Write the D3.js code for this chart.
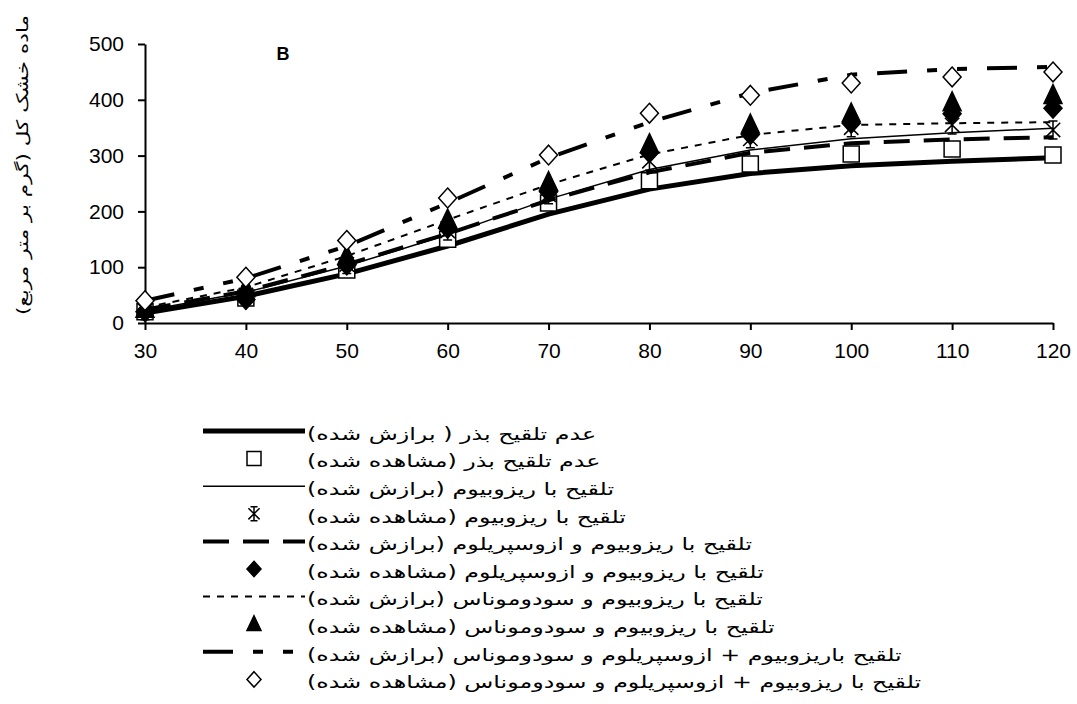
<!DOCTYPE html>
<html lang="fa">
<head>
    <meta charset="UTF-8">
    <title>Dry matter chart B</title>
    <script src="https://d3js.org/d3.v7.min.js"></script>
    <style>
        body {
            margin: 0;
            background: #fff;
        }
        .tick text {
            font-family: "Liberation Sans", Arial, sans-serif;
            font-size: 21px;
            fill: #000;
        }
        .legend-text {
            font-family: "DejaVu Sans", sans-serif;
            font-size: 17px;
            fill: #000;
        }
    </style>
</head>
<body>
<div id="chart"></div>
<script>
    // days after sowing
    const days = [30, 40, 50, 60, 70, 80, 90, 100, 110, 120];
    const yTicks = [0, 100, 200, 300, 400, 500];

    // fitted (برازش شده)
    const noInocFit   = [18, 48, 88, 138, 195, 240, 268, 282, 290, 296];
    const rhizoFit    = [22, 55, 102, 158, 222, 275, 310, 330, 341, 349];
    const rhizoAzoFit = [24, 57, 105, 160, 220, 270, 305, 322, 329, 333];
    const rhizoPsFit  = [28, 64, 120, 185, 248, 302, 337, 355, 358, 360];
    const allFit      = [40, 80, 138, 215, 296, 360, 412, 445, 455, 459];

    // observed (مشاهده شده)
    const noInocObs   = [20, 45, 95, 150, 215, 255, 285, 303, 312, 301];
    const rhizoObs    = [22, 50, 105, 165, 230, 290, 330, 350, 355, 346];
    const rhizoAzoObs = [20, 42, 104, 170, 235, 305, 338, 358, 375, 385];
    const rhizoPsObs  = [25, 62, 120, 185, 252, 320, 355, 375, 395, 408];
    const allObs      = [40, 82, 148, 224, 301, 376, 408, 430, 441, 450];

    const legendLabels = [
        "عدم تلقیح بذر ( برازش شده)",
        "عدم تلقیح بذر (مشاهده شده)",
        "تلقیح با ریزوبیوم (برازش شده)",
        "تلقیح با ریزوبیوم (مشاهده شده)",
        "تلقیح با ریزوبیوم و ازوسپریلوم (برازش شده)",
        "تلقیح با ریزوبیوم و ازوسپریلوم (مشاهده شده)",
        "تلقیح با ریزوبیوم و سودوموناس (برازش شده)",
        "تلقیح با ریزوبیوم و سودوموناس (مشاهده شده)",
        "تلقیح باریزوبیوم + ازوسپریلوم و سودوموناس (برازش شده)",
        "تلقیح با ریزوبیوم + ازوسپریلوم و سودوموناس (مشاهده شده)"
    ];

    const series = [
        {type: "line", values: noInocFit, width: 5, dash: null},
        {type: "marker", values: noInocObs, shape: "square", fill: "#fff"},
        {type: "line", values: rhizoFit, width: 1.5, dash: null},
        {type: "marker", values: rhizoObs, shape: "star", fill: "none"},
        {type: "line", values: rhizoAzoFit, width: 4, dash: "26,14"},
        {type: "marker", values: rhizoAzoObs, shape: "diamond", fill: "#000"},
        {type: "line", values: rhizoPsFit, width: 2, dash: "7,7"},
        {type: "marker", values: rhizoPsObs, shape: "triangle", fill: "#000"},
        {type: "line", values: allFit, width: 4, dash: "30,20,10,20,10,20"},
        {type: "marker", values: allObs, shape: "diamond", fill: "#fff"}
    ];

    const W = 1077, H = 704;
    const svg = d3.select('#chart')
        .append('svg')
        .attr('width', W)
        .attr('height', H);

    const x = d3.scaleLinear().domain([30, 120]).range([145, 1053]);
    const y = d3.scaleLinear().domain([0, 500]).range([323, 44]);

    function markerPath(shape, s) {
        const h = s / 2;
        if (shape === "square") return `M${-h},${-h}h${s}v${s}h${-s}Z`;
        if (shape === "diamond") return `M0,${-h * 1.1}L${h},0L0,${h * 1.1}L${-h},0Z`;
        if (shape === "triangle") return `M0,${-s * 0.6}L${h},${s * 0.45}L${-h},${s * 0.45}Z`;
        // asterisk-like star
        const r = h, d = h * 0.8;
        return `M0,${-r}V${r}M${-d},${-d}L${d},${d}M${d},${-d}L${-d},${d}M${-r * 0.5},${-r}H${r * 0.5}M${-r * 0.5},${r}H${r * 0.5}`;
    }

    // axes
    const yAxis = svg.append('g')
        .attr('transform', `translate(${x(30)},0)`)
        .call(d3.axisLeft(y).tickValues(yTicks).tickSize(7).tickSizeOuter(0).tickPadding(14));
    const xAxis = svg.append('g')
        .attr('transform', `translate(0,${y(0)})`)
        .call(d3.axisBottom(x).tickValues(days).tickSize(7).tickSizeOuter(0).tickPadding(13));
    [yAxis, xAxis].forEach(a => {
        a.selectAll('path, line').attr('stroke', '#000').attr('stroke-width', 2);
    });

    const line = d3.line().x((d, i) => x(days[i])).y(d => y(d));

    // plot series in order
    series.forEach(s => {
        if (s.type === "line") {
            svg.append('path')
                .datum(s.values)
                .attr('d', line)
                .attr('fill', 'none')
                .attr('stroke', '#000')
                .attr('stroke-width', s.width)
                .attr('stroke-dasharray', s.dash);
        } else {
            const size = s.shape === "square" ? 16 : 18;
            svg.append('g').selectAll('path')
                .data(s.values)
                .enter().append('path')
                .attr('transform', (d, i) => `translate(${x(days[i])},${y(d)})`)
                .attr('d', markerPath(s.shape, size))
                .attr('fill', s.fill)
                .attr('stroke', '#000')
                .attr('stroke-width', 1.5);
        }
    });

    // panel letter
    svg.append('text')
        .attr('x', 283)
        .attr('y', 60)
        .attr('text-anchor', 'middle')
        .style('font-family', '"Liberation Sans", Arial, sans-serif')
        .style('font-weight', 'bold')
        .style('font-size', '18px')
        .text('B');

    // y axis title (stretched along its length like the original)
    svg.append('text')
        .attr('transform', 'translate(22,165) rotate(-90) scale(1.35,1)')
        .attr('text-anchor', 'middle')
        .attr('dominant-baseline', 'central')
        .attr('direction', 'rtl')
        .style('font-family', '"DejaVu Sans", sans-serif')
        .style('font-size', '16px')
        .text('ماده خشک کل (گرم بر متر مربع)');

    // legend
    const legend = svg.append('g');
    const rowY = i => 431 + i * 27.6;
    series.forEach((s, i) => {
        const cy = rowY(i);
        if (s.type === "line") {
            legend.append('line')
                .attr('x1', 203).attr('x2', 305)
                .attr('y1', cy).attr('y2', cy)
                .attr('stroke', '#000')
                .attr('stroke-width', s.width)
                .attr('stroke-dasharray', s.dash);
        } else {
            legend.append('path')
                .attr('transform', `translate(254,${cy})`)
                .attr('d', markerPath(s.shape, 14))
                .attr('fill', s.fill)
                .attr('stroke', '#000')
                .attr('stroke-width', 1.5);
        }
        legend.append('text')
            .attr('class', 'legend-text')
            .attr('transform', `translate(307,${cy + 3}) scale(1.4,1)`)
            .attr('direction', 'rtl')
            .attr('text-anchor', 'end')
            .attr('dominant-baseline', 'central')
            .text(legendLabels[i]);
    });
</script>
</body>
</html>
